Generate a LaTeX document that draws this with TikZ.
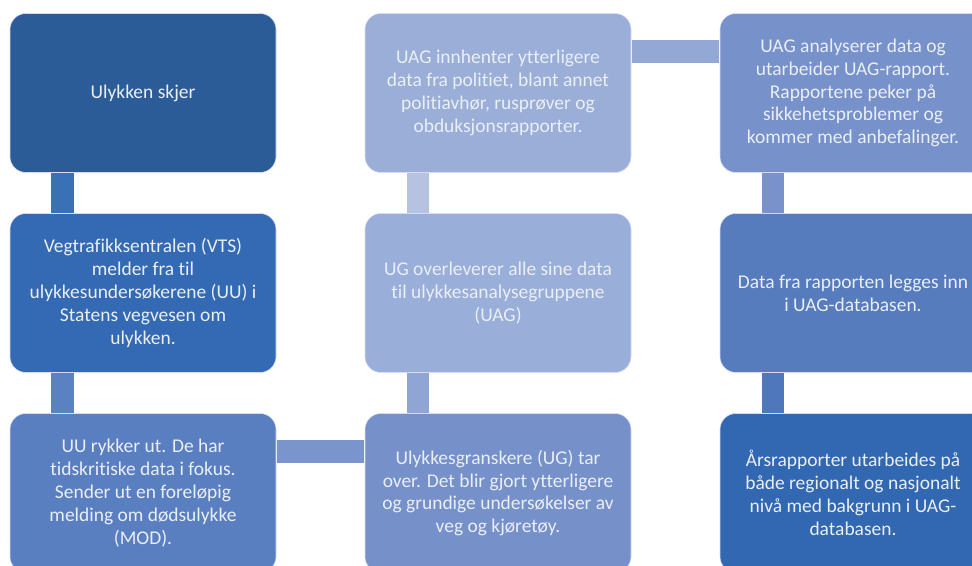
\documentclass[tikz,border=0pt]{standalone}
\usepackage{fontspec}
\setmainfont{Carlito}[RawFeature={-liga;-clig}]
\usetikzlibrary{calc}
\definecolor{bA}{HTML}{2B5C97}
\definecolor{bB}{HTML}{3469B3}
\definecolor{bC}{HTML}{5A7FC0}
\definecolor{bD}{HTML}{7690CA}
\definecolor{bE}{HTML}{99AED8}
\definecolor{bF}{HTML}{9AAED8}
\definecolor{bG}{HTML}{7791CA}
\definecolor{bH}{HTML}{567CBE}
\definecolor{bI}{HTML}{3168B1}
\definecolor{cA}{HTML}{3A70B5}
\definecolor{cB}{HTML}{5A82C2}
\definecolor{cC}{HTML}{7A95CC}
\definecolor{cD}{HTML}{8FA5D3}
\definecolor{cE}{HTML}{B5C3E0}
\definecolor{cF}{HTML}{93A8D5}
\definecolor{cG}{HTML}{7A92CB}
\definecolor{cH}{HTML}{4F77BC}
\definecolor{txt}{HTML}{EAEEF5}
\tikzset{
  box/.style={rounded corners=12pt, minimum width=199.5pt, minimum height=119.25pt,
    draw=white!85!blue, line width=0.4pt, text=txt, align=center, inner sep=0pt,
    font=\fontsize{14.6}{17.1}\selectfont},
}
\begin{document}
\begin{tikzpicture}[x=0.75pt,y=-0.75pt]
\useasboundingbox (0,0) rectangle (972,566);
\clip (0,0) rectangle (972,566);
\node[box, fill=bA] (b11) at (143,93) {Ulykken skjer};
\node[box, fill=bB] (b12) at (143,293) {Vegtrafikksentralen (VTS)\\melder fra til\\ulykkesundersøkerene (UU) i\\Statens vegvesen om\\ulykken.};
\node[box, fill=bC] (b13) at (143,493) {UU rykker ut. De har\\tidskritiske data i fokus.\\Sender ut en foreløpig\\melding om dødsulykke\\(MOD).};
\node[box, fill=bD] (b23) at (498,493) {Ulykkesgranskere (UG) tar\\over. Det blir gjort ytterligere\\og grundige undersøkelser av\\veg og kjøretøy.};
\node[box, fill=bE] (b22) at (498,293) {UG overleverer alle sine data\\til ulykkesanalysegruppene\\(UAG)};
\node[box, fill=bF] (b21) at (498,93) {UAG innhenter ytterligere\\data fra politiet, blant annet\\politiavhør, rusprøver og\\obduksjonsrapporter.};
\node[box, fill=bG] (b31) at (853,93) {UAG analyserer data og\\utarbeider UAG-rapport.\\Rapportene peker på\\sikkehetsproblemer og\\kommer med anbefalinger.};
\node[box, fill=bH] (b32) at (853,293) {Data fra rapporten legges inn\\i UAG-databasen.};
\node[box, fill=bI] (b33) at (853,493) {Årsrapporter utarbeides på\\både regionalt og nasjonalt\\nivå med bakgrunn i UAG-\\databasen.};
% connectors
\fill[cA] ($(b11.south west)+(41,0.5)$) rectangle ($(b12.north west)+(64,-0.5)$);
\fill[cB] ($(b12.south west)+(41,0.5)$) rectangle ($(b13.north west)+(64,-0.5)$);
\fill[cC] ($(b13.north east)+(0.5,27)$) rectangle ($(b23.north west)+(-0.5,50)$);
\fill[cD] ($(b22.south west)+(42,0.5)$) rectangle ($(b23.north west)+(64,-0.5)$);
\fill[cE] ($(b21.south west)+(42,0.5)$) rectangle ($(b22.north west)+(64,-0.5)$);
\fill[cF] ($(b21.north east)+(0.5,27)$) rectangle ($(b31.north west)+(-0.5,50)$);
\fill[cG] ($(b31.south west)+(42,0.5)$) rectangle ($(b32.north west)+(64,-0.5)$);
\fill[cH] ($(b32.south west)+(42,0.5)$) rectangle ($(b33.north west)+(64,-0.5)$);
\end{tikzpicture}
\end{document}
